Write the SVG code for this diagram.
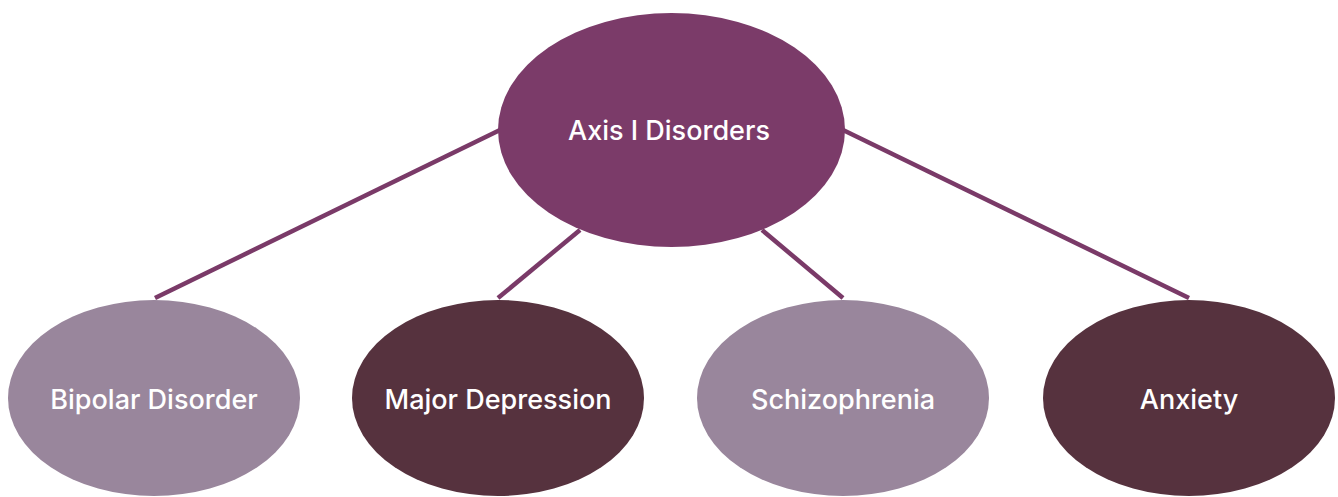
<svg xmlns="http://www.w3.org/2000/svg" width="1338" height="497" viewBox="0 0 1338 497">
<style>
.lbl{font-family:Inter,"Open Sans","Liberation Sans",sans-serif;font-size:27px;font-weight:500;fill:#ffffff;text-anchor:middle;dominant-baseline:central}
.edge{stroke:#7a3a68;stroke-width:4.5;fill:none}
.light{fill:#99869c}
.dark{fill:#56323e}
</style>
<rect width="1338" height="497" fill="#ffffff"/>
<g id="connectors">
<line class="edge" x1="500" y1="130" x2="155" y2="298"/>
<line class="edge" x1="580" y1="230" x2="498" y2="298"/>
<line class="edge" x1="762" y1="230" x2="843" y2="298"/>
<line class="edge" x1="843" y1="130" x2="1189" y2="298"/>
</g>
<g id="axis1">
<ellipse cx="671.5" cy="130" rx="173.5" ry="117" fill="#7b3b69"/>
<text class="lbl" x="669" y="130">Axis I Disorders</text>
</g>
<g id="bipolar">
<ellipse class="light" cx="154" cy="398" rx="146" ry="98"/>
<text class="lbl" x="154" y="399">Bipolar Disorder</text>
</g>
<g id="depression">
<ellipse class="dark" cx="498" cy="398" rx="146" ry="98"/>
<text class="lbl" x="498" y="399">Major Depression</text>
</g>
<g id="schizophrenia">
<ellipse class="light" cx="843" cy="398" rx="146" ry="98"/>
<text class="lbl" x="843" y="399">Schizophrenia</text>
</g>
<g id="anxiety">
<ellipse class="dark" cx="1189" cy="398" rx="146" ry="98"/>
<text class="lbl" x="1189" y="399">Anxiety</text>
</g>
</svg>
